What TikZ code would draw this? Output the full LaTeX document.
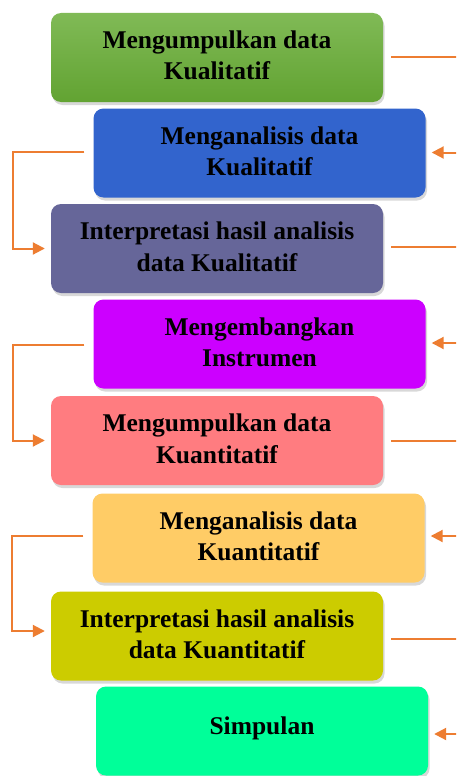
\documentclass[tikz,border=0pt]{standalone}
\usepackage{fontspec}
\setmainfont{Liberation Serif}
\usetikzlibrary{arrows.meta,shadows}
\newcommand\boxfont{\fontsize{25.5}{31}\selectfont\bfseries}
\definecolor{orangec}{RGB}{237,125,49}
\definecolor{gtop}{RGB}{128,186,86}
\definecolor{gbot}{RGB}{98,163,50}
\definecolor{bluec}{RGB}{50,100,205}
\definecolor{slatec}{RGB}{102,102,153}
\definecolor{magc}{RGB}{204,0,255}
\definecolor{pinkc}{RGB}{255,124,128}
\definecolor{yelc}{RGB}{255,204,102}
\definecolor{olivec}{RGB}{204,204,0}
\definecolor{mintc}{RGB}{0,255,153}
\tikzset{
  box/.style={rounded corners=10pt, minimum width=332pt, minimum height=89pt,
    inner sep=0pt,
    drop shadow={shadow xshift=1.5pt, shadow yshift=-3pt, opacity=0.3}},
  txt/.style={font=\boxfont, text=black, inner sep=0pt, outer sep=0pt, anchor=base},
  conn/.style={draw=orangec, line width=2pt},
  arr/.style={conn, -{Triangle[length=12pt,width=12pt]}},
}
\begin{document}
\begin{tikzpicture}[x=1pt,y=-1pt]
\useasboundingbox (0,0) rectangle (456,776);
\fill[white] (0,0) rectangle (456,776);
\begin{scope}
\clip (0,0) rectangle (456,776);
% boxes
\node[box, top color=gtop, bottom color=gbot] (b1) at (217,57.5) {};
\node[box, fill=bluec] (b2) at (259.5,153) {};
\node[box, fill=slatec] (b3) at (217,248.5) {};
\node[box, fill=magc] (b4) at (259.5,344) {};
\node[box, fill=pinkc] (b5) at (217,440.5) {};
\node[box, fill=yelc] (b6) at (258.5,538) {};
\node[box, fill=olivec] (b7) at (217,636) {};
\node[box, fill=mintc] (b8) at (262,731) {};
% texts
\node[txt] (b1a) at ([yshift=9pt]b1.center) {Mengumpulkan data};
\node[txt] (b1b) at ([yshift=-22.5pt]b1.center) {Kualitatif};
\node[txt] (b2a) at ([yshift=9pt]b2.center) {Menganalisis data};
\node[txt] (b2b) at ([yshift=-22.5pt]b2.center) {Kualitatif};
\node[txt] (b3a) at ([yshift=9pt]b3.center) {Interpretasi hasil analisis};
\node[txt] (b3b) at ([yshift=-22.5pt]b3.center) {data Kualitatif};
\node[txt] (b4a) at ([yshift=9pt]b4.center) {Mengembangkan};
\node[txt] (b4b) at ([yshift=-22.5pt]b4.center) {Instrumen};
\node[txt] (b5a) at ([yshift=9pt]b5.center) {Mengumpulkan data};
\node[txt] (b5b) at ([yshift=-22.5pt]b5.center) {Kuantitatif};
\node[txt] (b6a) at ([yshift=9pt]b6.center) {Menganalisis data};
\node[txt] (b6b) at ([yshift=-22.5pt]b6.center) {Kuantitatif};
\node[txt] (b7a) at ([yshift=9pt]b7.center) {Interpretasi hasil analisis};
\node[txt] (b7b) at ([yshift=-22.5pt]b7.center) {data Kuantitatif};
\node[txt] (b8a) at ([yshift=-3pt]b8.center) {Simpulan};
% right side connectors (turn beyond the right edge)
\draw[arr] ([xshift=8pt]b1.east) -- ++(90pt,0) |- ([xshift=6pt,yshift=0.5pt]b2.east);
\draw[arr] ([xshift=8pt,yshift=1.5pt]b3.east) -- ++(90pt,0) |- ([xshift=6pt,yshift=1pt]b4.east);
\draw[arr] ([xshift=8pt]b5.east) -- ++(90pt,0) |- ([xshift=6pt,yshift=2pt]b6.east);
\draw[arr] ([xshift=8pt,yshift=-3pt]b7.east) -- ++(90pt,0) |- ([xshift=6pt,yshift=-3pt]b8.east);
% left side connectors
\draw[arr] ([xshift=-9pt,yshift=1pt]b2.west) -- ++(-71pt,0) |- ([xshift=-6pt]b3.west);
\draw[arr] ([xshift=-9pt,yshift=-1pt]b4.west) -- ++(-71pt,0) |- ([xshift=-6pt]b5.west);
\draw[arr] ([xshift=-9pt,yshift=2pt]b6.west) -- ++(-71pt,0) |- ([xshift=-6pt,yshift=5pt]b7.west);
\end{scope}
\end{tikzpicture}
\end{document}
